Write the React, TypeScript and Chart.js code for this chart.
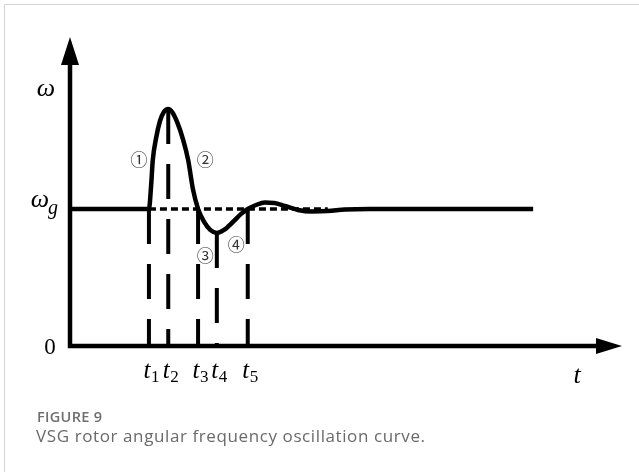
import React, { useEffect, useRef } from "react";
import { Chart, registerables } from "chart.js";

Chart.register(...registerables);

// Time axis (arbitrary units) and rotor angular frequency (per unit of ω_g)
const curveT = [0, 1.43, 1.47, 1.5, 1.56, 1.63, 1.7, 1.78, 1.85, 1.94, 2.05, 2.14, 2.23, 2.32, 2.43, 2.54, 2.66, 2.79, 2.95, 3.1, 3.22, 3.37, 3.53, 3.7, 3.89, 4.13, 4.38, 4.67, 4.98, 5.43, 8.39];
const curveW = [1.0, 1.0, 1.175, 1.358, 1.518, 1.642, 1.708, 1.73, 1.708, 1.635, 1.504, 1.358, 1.139, 1.0, 0.905, 0.847, 0.825, 0.847, 0.905, 0.964, 1.0, 1.029, 1.047, 1.044, 1.022, 0.993, 0.982, 0.985, 0.996, 1.0, 1.0];

// Marked instants t1..t5 and the curve value reached at each
const markT = [1.43, 1.78, 2.32, 2.66, 3.22];
const markW = [1.0, 1.73, 1.0, 0.825, 1.0];
const markNames = ["1", "2", "3", "4", "5"];

// Grid reference ω_g (dashed) span
const refT = [1.43, 4.67];
const refW = 1.0;

// Stage markers ①–④ placed at (t, ω)
const stageText = ["①", "②", "③", "④"];
const stageT = [1.25, 2.45, 2.45, 3.01];
const stageW = [1.36, 1.36, 0.66, 0.74];

const T_MAX = 10;
const W_MAX = 2.255;

const serif = '"Liberation Serif", "Times New Roman", serif';

const decorPlugin = {
  id: "decor",
  afterDatasetsDraw(chart: any) {
    const { ctx, chartArea, scales } = chart;
    const xs = scales.x;
    const ys = scales.y;
    const x0 = xs.getPixelForValue(0);
    const y0 = ys.getPixelForValue(0);
    const xEnd = chartArea.right;
    const yTop = chartArea.top;
    ctx.save();
    ctx.fillStyle = "#000";
    ctx.strokeStyle = "#000";
    ctx.lineWidth = 4.5;
    ctx.lineCap = "butt";
    // vertical axis
    ctx.beginPath();
    ctx.moveTo(x0, y0 + 2);
    ctx.lineTo(x0, yTop + 20);
    ctx.stroke();
    ctx.beginPath();
    ctx.moveTo(x0, yTop);
    ctx.lineTo(x0 - 9, yTop + 28);
    ctx.lineTo(x0 + 9, yTop + 28);
    ctx.closePath();
    ctx.fill();
    // horizontal axis
    ctx.beginPath();
    ctx.moveTo(x0 - 2, y0);
    ctx.lineTo(xEnd - 18, y0);
    ctx.stroke();
    ctx.beginPath();
    ctx.moveTo(xEnd, y0);
    ctx.lineTo(xEnd - 26, y0 - 8);
    ctx.lineTo(xEnd - 26, y0 + 8);
    ctx.closePath();
    ctx.fill();

    // axis symbols
    ctx.textBaseline = "alphabetic";
    ctx.textAlign = "center";
    ctx.font = `italic 26px ${serif}`;
    ctx.fillText("ω", x0 - 24, ys.getPixelForValue(W_MAX * 0.83) + 6);
    const yg = ys.getPixelForValue(refW);
    ctx.fillText("ω", x0 - 30, yg - 2);
    ctx.font = `italic 20px ${serif}`;
    ctx.fillText("g", x0 - 17, yg + 5);
    ctx.font = `23px ${serif}`;
    ctx.fillText("0", x0 - 20, y0 + 8);
    ctx.font = `italic 26px ${serif}`;
    ctx.fillText("t", xEnd - 45, y0 + 37);

    // instant labels t1..t5
    markT.forEach((t, i) => {
      const px = xs.getPixelForValue(t);
      ctx.font = `italic 25px ${serif}`;
      ctx.textAlign = "center";
      ctx.fillText("t", px - 2, y0 + 32);
      ctx.font = `17px ${serif}`;
      ctx.textAlign = "left";
      ctx.fillText(markNames[i], px + 2, y0 + 36);
    });

    // stage markers
    ctx.fillStyle = "#333";
    ctx.textAlign = "center";
    ctx.textBaseline = "middle";
    ctx.font = `17px "Noto Sans CJK SC", "DejaVu Sans", sans-serif`;
    stageText.forEach((s, i) => {
      ctx.fillText(s, xs.getPixelForValue(stageT[i]), ys.getPixelForValue(stageW[i]));
    });
    ctx.restore();
  },
};

export default function App() {
  const ref = useRef<HTMLCanvasElement | null>(null);

  useEffect(() => {
    if (!ref.current) return;
    const curve = curveT.map((t, i) => ({ x: t, y: curveW[i] }));
    const markSets = markT.map((t, i) => ({
      data: [
        { x: t, y: markW[i] },
        { x: t, y: 0 },
      ],
      borderColor: "#000",
      borderWidth: 4,
      borderDash: [35, 20],
      pointRadius: 0,
      tension: 0,
      order: 3,
    }));
    const chart = new Chart(ref.current, {
      type: "line",
      data: {
        datasets: [
          {
            data: curve,
            borderColor: "#000",
            borderWidth: 4.5,
            pointRadius: 0,
            cubicInterpolationMode: "monotone",
            order: 1,
          } as any,
          {
            data: refT.map((t) => ({ x: t, y: refW })),
            borderColor: "#000",
            borderWidth: 3.5,
            borderDash: [7, 4],
            pointRadius: 0,
            order: 2,
          },
          ...markSets,
        ],
      },
      options: {
        animation: false,
        responsive: false,
        maintainAspectRatio: false,
        devicePixelRatio: 1,
        layout: { padding: { left: 70, top: 37, right: 17, bottom: 126 } },
        plugins: { legend: { display: false }, tooltip: { enabled: false } },
        scales: {
          x: { type: "linear", min: 0, max: T_MAX, display: false },
          y: { type: "linear", min: 0, max: W_MAX, display: false },
        },
      },
      plugins: [decorPlugin],
    });
    return () => chart.destroy();
  }, []);

  return (
    <div style={{ position: "fixed", left: 0, top: 0, width: 639, height: 472, background: "#fff", overflow: "hidden" }}>
      <div style={{ position: "absolute", left: 4, top: 4, width: 700, height: 600, border: "1.5px solid #d4d4d4", boxSizing: "border-box" }} />
      <canvas ref={ref} width={639} height={472} style={{ position: "absolute", left: 0, top: 0, width: 639, height: 472 }} />
      <div style={{ position: "absolute", left: 37, top: 407, font: '600 14.5px/20px "Open Sans", sans-serif', letterSpacing: 0.3, color: "#6e6e6e", whiteSpace: "nowrap" }}>
        FIGURE 9
      </div>
      <div style={{ position: "absolute", left: 36, top: 425, font: '17px/22px "Open Sans", sans-serif', letterSpacing: 0.6, color: "#6a6a6a", whiteSpace: "nowrap" }}>
        VSG rotor angular frequency oscillation curve.
      </div>
    </div>
  );
}
